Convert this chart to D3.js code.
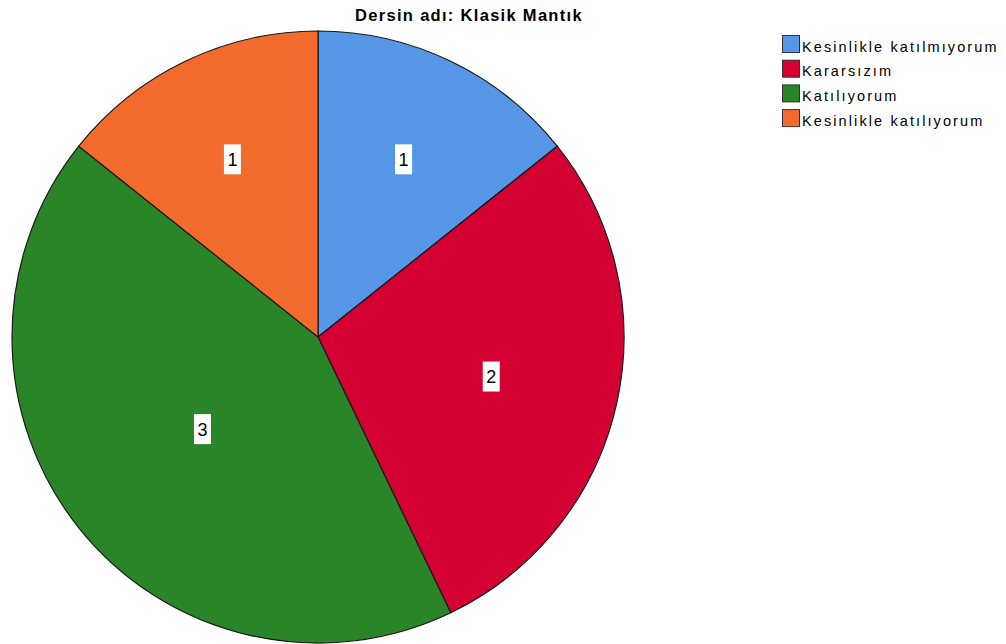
<!DOCTYPE html>
<html><head><meta charset="utf-8">
<script src="https://cdn.jsdelivr.net/npm/d3@7"></script>
<style>body{margin:0;background:#fff;} svg{display:block;}</style>
</head><body>
<script>
const title = "Dersin adı: Klasik Mantık";
const categories = ["Kesinlikle katılmıyorum", "Kararsızım", "Katılıyorum", "Kesinlikle katılıyorum"];
const values = [1, 2, 3, 1];
const colors = ["#5596E6", "#D50032", "#2A8529", "#F26A2C"];

const W = 1006, H = 644;
const svg = d3.select("body").append("svg").attr("width", W).attr("height", H);
const cx = 318, cy = 337, R = 306;

svg.append("text").attr("x", 469).attr("y", 20.5).attr("text-anchor", "middle")
  .attr("font-family", "Liberation Sans, Arial, sans-serif").attr("font-weight", "bold")
  .attr("font-size", 16.5).attr("letter-spacing", 1.3).attr("fill", "#000").text(title);

const pie = d3.pie().sort(null).value(d => d);
const arcs = pie(values);
const arc = d3.arc().innerRadius(0).outerRadius(R);
const g = svg.append("g").attr("transform", `translate(${cx},${cy})`);
g.selectAll("path").data(arcs).join("path")
  .attr("d", arc).attr("fill", (d, i) => colors[i])
  .attr("stroke", "#1a1a1a").attr("stroke-width", 1.2);

// labels at sector centroid
arcs.forEach((a, i) => {
  const half = (a.endAngle - a.startAngle) / 2;
  const mid = a.startAngle + half;
  const dist = 2 * R * Math.sin(half) / (3 * half);
  const x = dist * Math.sin(mid), y = -dist * Math.cos(mid);
  const lg = g.append("g").attr("transform", `translate(${x},${y})`);
  lg.append("rect").attr("x", -8.5).attr("y", -15).attr("width", 17).attr("height", 30).attr("fill", "#fff");
  lg.append("text").attr("text-anchor", "middle").attr("y", 6.5)
    .attr("font-family", "Liberation Sans, Arial, sans-serif").attr("font-size", 18)
    .attr("fill", "#000").text(values[i]);
});

const leg = svg.append("g").attr("transform", "translate(782,35)");
categories.forEach((c, i) => {
  const row = leg.append("g").attr("transform", `translate(0,${i * 24.7})`);
  row.append("rect").attr("x", 0.5).attr("y", 0.5).attr("width", 17).attr("height", 17)
    .attr("fill", colors[i]).attr("stroke", "#333").attr("stroke-width", 1);
  row.append("text").attr("x", 20).attr("y", 16.5)
    .attr("font-family", "Liberation Sans, Arial, sans-serif").attr("font-size", 14.5)
    .attr("letter-spacing", 2.1).attr("fill", "#000").text(c);
});
</script>
</body></html>
